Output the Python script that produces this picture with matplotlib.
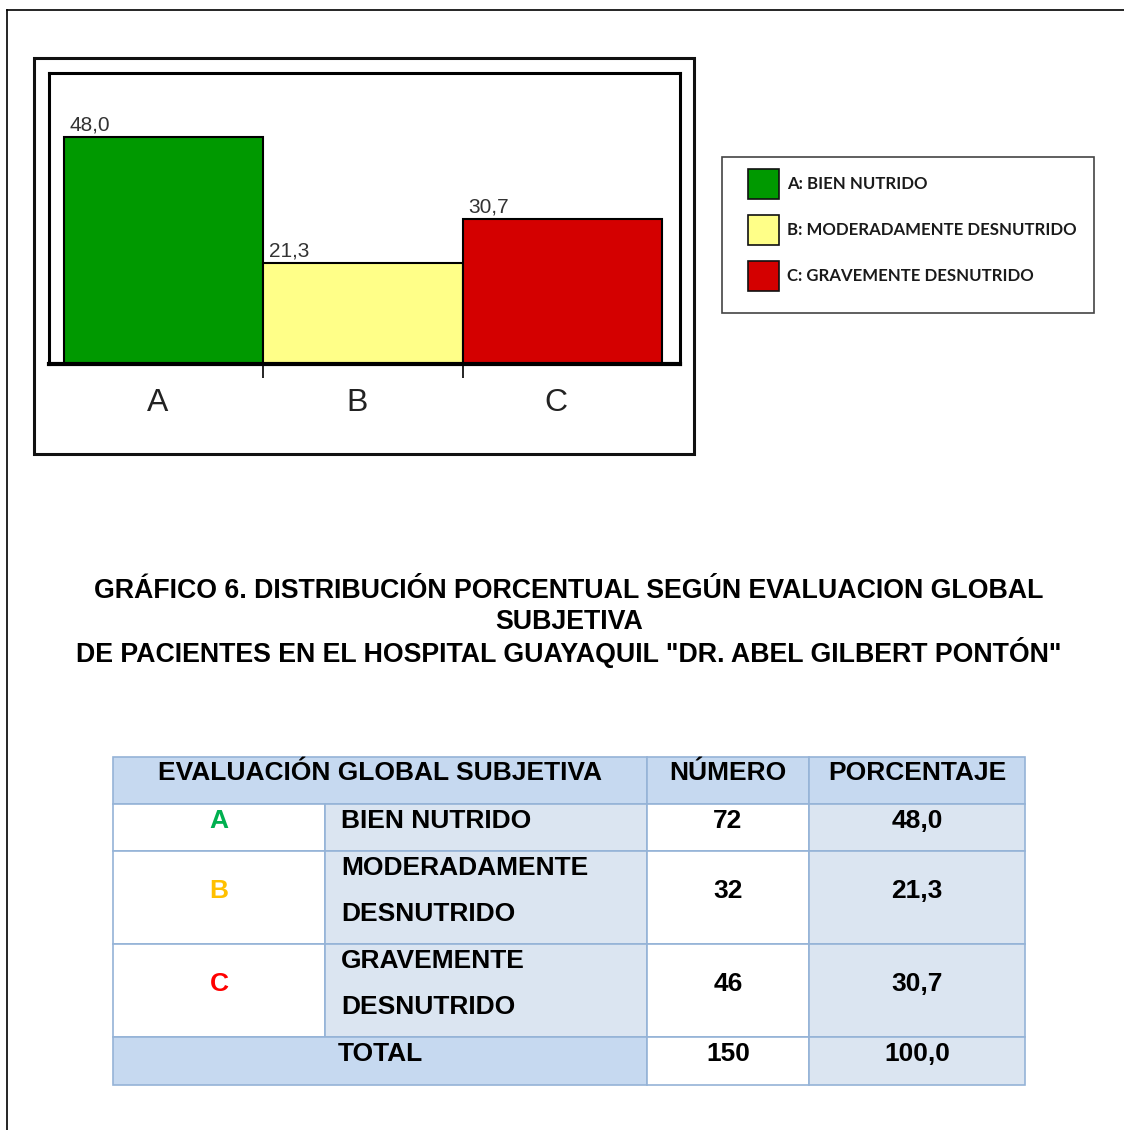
import matplotlib
matplotlib.use('Agg')
import matplotlib.pyplot as plt
from matplotlib.patches import Rectangle

plt.rcParams['font.family'] = ['Liberation Sans', 'DejaVu Sans']

# datos del grafico
categorias = ['A', 'B', 'C']
porcentajes = [48.0, 21.3, 30.7]
colores = ['#009900', '#ffff88', '#d40000']
leyenda = ['A: BIEN NUTRIDO', 'B: MODERADAMENTE DESNUTRIDO', 'C: GRAVEMENTE DESNUTRIDO']

titulo = ['GRÁFICO 6. DISTRIBUCIÓN PORCENTUAL SEGÚN EVALUACION GLOBAL',
          'SUBJETIVA',
          'DE PACIENTES EN EL HOSPITAL GUAYAQUIL "DR. ABEL GILBERT PONTÓN"']

# datos de la tabla
encabezados = ['EVALUACIÓN GLOBAL SUBJETIVA', 'NÚMERO', 'PORCENTAJE']
descripciones = [['BIEN NUTRIDO'], ['MODERADAMENTE', 'DESNUTRIDO'], ['GRAVEMENTE', 'DESNUTRIDO']]
numeros = [72, 32, 46]
colores_letra = ['#00b050', '#ffc000', '#ff0000']
total_num = 150
total_porc = 100.0


def coma(v):
    return f'{v:.1f}'.replace('.', ',')


W, H = 1124, 1130
fig = plt.figure(figsize=(W / 100, H / 100), dpi=100)
page = fig.add_axes([0, 0, 1, 1])
page.set_xlim(0, W)
page.set_ylim(H, 0)
page.axis('off')

# borde de pagina
page.plot([7, 7], [H, 10], color='black', lw=1.2)
page.plot([7, W], [10, 10], color='black', lw=1.2)

# marco del grafico
page.add_patch(Rectangle((34, 58), 660, 396, fill=False, lw=2.2, ec='#111111'))

# grafico de barras
ax = fig.add_axes([49 / W, 1 - 364 / H, 631 / W, 291 / H])
xs = range(len(categorias))
ax.bar(xs, porcentajes, width=1.0, align='edge', color=colores, edgecolor='black', linewidth=1.5)
for i, v in enumerate(porcentajes):
    ax.text(i + 0.03, v + 0.5, coma(v), ha='left', va='bottom', fontsize=15, color='#333333')
ax.set_xlim(-0.075, 3.09)
ax.set_ylim(0, 61.5)
ax.set_yticks([])
ax.set_xticks([0.47, 1.47, 2.47], categorias, fontsize=23, color='#222222')
ax.set_xticks([1, 2], minor=True)
ax.tick_params(axis='x', which='major', length=0, pad=17)
ax.tick_params(axis='x', which='minor', length=10, width=1.2, direction='out')
for s in ['top', 'left', 'right']:
    ax.spines[s].set_linewidth(2.2)
ax.spines['bottom'].set_linewidth(3)

# leyenda
page.add_patch(Rectangle((722, 157), 372, 156, fill=False, lw=1.2, ec='#444444'))
for i, (lab, c) in enumerate(zip(leyenda, colores)):
    y0 = 169 + i * 46
    page.add_patch(Rectangle((748, y0), 31, 30, fc=c, ec='#111111', lw=1.2))
    page.text(787, y0 + 15, lab, ha='left', va='center', fontsize=12.1,
              fontweight='bold', family=['Lato', 'DejaVu Sans'], color='#1a1a1a')

# titulo
for i, linea in enumerate(titulo):
    page.text(569, 591 + i * 31, linea, ha='center', va='center',
              fontsize=19.3, fontweight='bold', color='black')

# tabla
cols = [113, 325, 647, 809, 1025]
filas = [757, 804, 851, 944, 1037, 1085]
azul = '#c6d9f0'
claro = '#dbe5f1'
borde = '#95b3d7'


def celda(x0, x1, y0, y1, fc):
    page.add_patch(Rectangle((x0, y0), x1 - x0, y1 - y0, fc=fc, ec=borde, lw=1.2))


tk = dict(fontsize=19, fontweight='bold', va='center')

# encabezado
celda(cols[0], cols[2], filas[0], filas[1], azul)
celda(cols[2], cols[3], filas[0], filas[1], azul)
celda(cols[3], cols[4], filas[0], filas[1], azul)
centros = [(cols[0] + cols[2]) / 2, (cols[2] + cols[3]) / 2, (cols[3] + cols[4]) / 2]
for cx, t in zip(centros, encabezados):
    page.text(cx, filas[0] + 16, t, ha='center', color='black', **tk)

# filas de datos
for i in range(3):
    y0, y1 = filas[i + 1], filas[i + 2]
    celda(cols[0], cols[1], y0, y1, 'white')
    celda(cols[1], cols[2], y0, y1, claro)
    celda(cols[2], cols[3], y0, y1, 'white')
    celda(cols[3], cols[4], y0, y1, claro)
    ym = y0 + 17 if len(descripciones[i]) == 1 else y0 + 40
    page.text((cols[0] + cols[1]) / 2, ym, categorias[i], ha='center', color=colores_letra[i], **tk)
    for j, linea in enumerate(descripciones[i]):
        page.text(cols[1] + 16, y0 + 17 + j * 46, linea, ha='left', color='black', **tk)
    page.text(centros[1], ym, str(numeros[i]), ha='center', color='black', **tk)
    page.text(centros[2], ym, coma(porcentajes[i]), ha='center', color='black', **tk)

# total
y0, y1 = filas[4], filas[5]
celda(cols[0], cols[2], y0, y1, azul)
celda(cols[2], cols[3], y0, y1, 'white')
celda(cols[3], cols[4], y0, y1, claro)
page.text(centros[0], y0 + 17, 'TOTAL', ha='center', color='black', **tk)
page.text(centros[1], y0 + 17, str(total_num), ha='center', color='black', **tk)
page.text(centros[2], y0 + 17, coma(total_porc), ha='center', color='black', **tk)

fig.savefig('out.png', dpi=100, facecolor='white')
